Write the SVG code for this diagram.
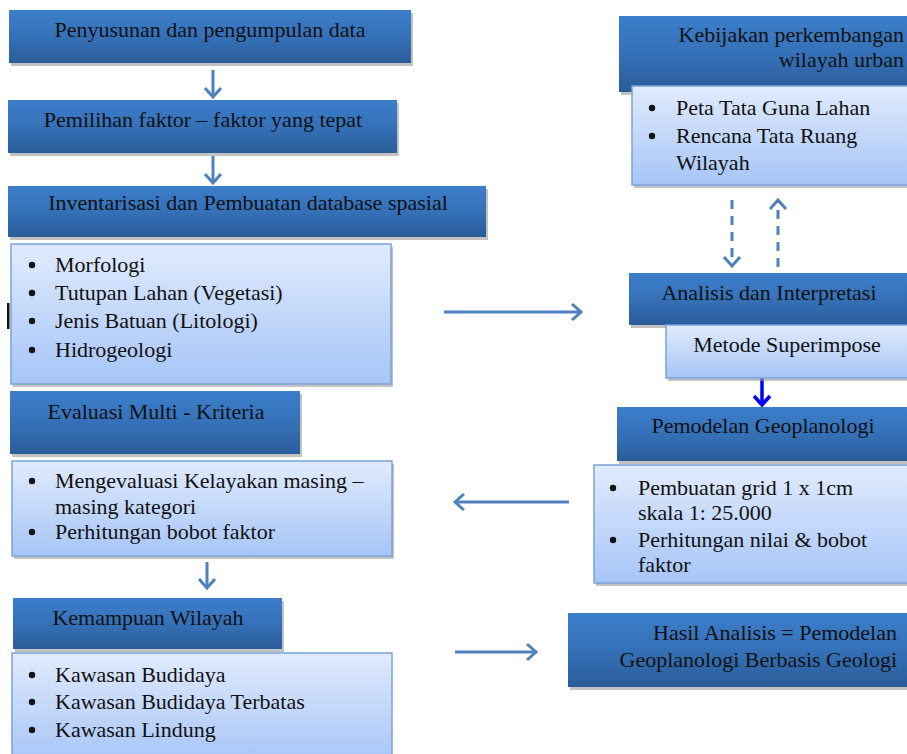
<svg xmlns="http://www.w3.org/2000/svg" width="907" height="754" viewBox="0 0 907 754">
<defs>
<linearGradient id="gDark" x1="0" y1="0" x2="0" y2="1">
<stop offset="0" stop-color="#3c7ecb"/>
<stop offset="0.5" stop-color="#3571b8"/>
<stop offset="1" stop-color="#2a5c99"/>
</linearGradient>
<linearGradient id="gLight" x1="0" y1="0" x2="0" y2="1">
<stop offset="0" stop-color="#e1ebfd"/>
<stop offset="1" stop-color="#a6c5f7"/>
</linearGradient>
<marker id="ah" viewBox="-12 -10 14 20" refX="0" refY="0" markerWidth="14" markerHeight="20" markerUnits="userSpaceOnUse" orient="auto">
<path d="M-9,-8 L0,0 L-9,8" fill="none" stroke="#4f81bd" stroke-width="3"/>
</marker>
<marker id="ahb" viewBox="-12 -10 14 20" refX="0" refY="0" markerWidth="14" markerHeight="20" markerUnits="userSpaceOnUse" orient="auto">
<path d="M-9,-8 L0,0 L-9,8" fill="none" stroke="#0000ff" stroke-width="3.5"/>
</marker>
</defs>
<style>
.dk{fill:url(#gDark);}
.sh{fill:#9a9a9a;opacity:0.6;}
.lt{fill:url(#gLight);stroke:#7aa3d8;stroke-width:1.5;}
.t{font-family:"Liberation Serif","Times New Roman",serif;font-size:22px;fill:#111;}
.c{text-anchor:middle;}
.e{text-anchor:end;}
.b{fill:#111;}
.ar{fill:none;stroke:#4f81bd;stroke-width:3;marker-end:url(#ah);}
.da{stroke-dasharray:9,7;}
</style>
<rect width="907" height="754" fill="#ffffff"/>

<g id="connectors">
<line class="ar" x1="213" y1="70" x2="213" y2="97"/>
<line class="ar" x1="213" y1="156" x2="213" y2="183"/>
<line class="ar da" x1="732" y1="200" x2="732" y2="266"/>
<line class="ar da" x1="778" y1="267" x2="778" y2="200"/>
<line class="ar" x1="444" y1="312" x2="581" y2="312"/>
<line x1="762" y1="378" x2="762" y2="405" fill="none" stroke="#0000ff" stroke-width="3.5" marker-end="url(#ahb)"/>
<line class="ar" x1="569" y1="502" x2="455" y2="502"/>
<line class="ar" x1="207" y1="562" x2="207" y2="588"/>
<line class="ar" x1="455" y1="652" x2="536" y2="652"/>
</g>

<rect x="7" y="303" width="2.5" height="26" fill="#111"/>

<g id="n1">
<rect class="sh" x="11" y="13" width="402" height="53"/>
<rect class="dk" x="9" y="10" width="402" height="53"/>
<text class="t c" x="210" y="37">Penyusunan dan pengumpulan data</text>
</g>
<g id="n2">
<rect class="sh" x="10" y="103" width="389" height="53"/>
<rect class="dk" x="8" y="100" width="389" height="53"/>
<text class="t c" x="203" y="127">Pemilihan faktor – faktor yang tepat</text>
</g>
<g id="n3">
<rect class="sh" x="10" y="189" width="478" height="51"/>
<rect class="dk" x="8" y="186" width="478" height="51"/>
<text class="t c" x="248" y="210">Inventarisasi dan Pembuatan database spasial</text>
</g>
<g id="n4">
<rect class="sh" x="13" y="247" width="380" height="140"/>
<rect class="lt" x="11" y="244" width="380" height="140"/>
<circle class="b" cx="32" cy="265" r="3.2"/>
<circle class="b" cx="32" cy="293" r="3.2"/>
<circle class="b" cx="32" cy="321" r="3.2"/>
<circle class="b" cx="32" cy="350" r="3.2"/>
<text class="t" x="55" y="272">Morfologi</text>
<text class="t" x="55" y="300">Tutupan Lahan (Vegetasi)</text>
<text class="t" x="55" y="328">Jenis Batuan (Litologi)</text>
<text class="t" x="55" y="357">Hidrogeologi</text>
</g>
<g id="n5">
<rect class="sh" x="12" y="394" width="290" height="63"/>
<rect class="dk" x="10" y="391" width="290" height="63"/>
<text class="t c" x="156" y="419">Evaluasi Multi - Kriteria</text>
</g>
<g id="n6">
<rect class="sh" x="14" y="464" width="380" height="95"/>
<rect class="lt" x="12" y="461" width="380" height="95"/>
<circle class="b" cx="32" cy="481" r="3.2"/>
<circle class="b" cx="32" cy="532" r="3.2"/>
<text class="t" x="55" y="488">Mengevaluasi Kelayakan masing –</text>
<text class="t" x="55" y="514">masing kategori</text>
<text class="t" x="55" y="539">Perhitungan bobot faktor</text>
</g>
<g id="n7">
<rect class="sh" x="15" y="601" width="269" height="51"/>
<rect class="dk" x="13" y="598" width="269" height="51"/>
<text class="t c" x="148" y="625">Kemampuan Wilayah</text>
</g>
<g id="n8">
<rect class="lt" x="12" y="653" width="380" height="110"/>
<circle class="b" cx="32" cy="675" r="3.2"/>
<circle class="b" cx="32" cy="702" r="3.2"/>
<circle class="b" cx="32" cy="730" r="3.2"/>
<text class="t" x="55" y="682">Kawasan Budidaya</text>
<text class="t" x="55" y="709">Kawasan Budidaya Terbatas</text>
<text class="t" x="55" y="737">Kawasan Lindung</text>
</g>
<g id="n9">
<rect class="sh" x="621" y="19" width="300" height="76"/>
<rect class="dk" x="619" y="16" width="300" height="76"/>
<text class="t e" x="904" y="42">Kebijakan perkembangan</text>
<text class="t e" x="904" y="67">wilayah urban</text>
</g>
<g id="n10">
<rect class="sh" x="634" y="89" width="290" height="99"/>
<rect class="lt" x="632" y="86" width="290" height="99"/>
<circle class="b" cx="652" cy="108" r="3.2"/>
<circle class="b" cx="652" cy="136" r="3.2"/>
<text class="t" x="676" y="115">Peta Tata Guna Lahan</text>
<text class="t" x="676" y="143">Rencana Tata Ruang</text>
<text class="t" x="676" y="170">Wilayah</text>
</g>
<g id="n11">
<rect class="sh" x="631" y="276" width="290" height="52"/>
<rect class="dk" x="629" y="273" width="290" height="52"/>
<text class="t c" x="769" y="300">Analisis dan Interpretasi</text>
</g>
<g id="n12">
<rect class="sh" x="668" y="328" width="260" height="53"/>
<rect class="lt" x="666" y="325" width="260" height="53"/>
<text class="t c" x="787" y="352">Metode Superimpose</text>
</g>
<g id="n13">
<rect class="sh" x="619" y="410" width="300" height="54"/>
<rect class="dk" x="617" y="407" width="300" height="54"/>
<text class="t c" x="763" y="433">Pemodelan Geoplanologi</text>
</g>
<g id="n14">
<rect class="sh" x="596" y="468" width="330" height="118"/>
<rect class="lt" x="594" y="465" width="330" height="118"/>
<circle class="b" cx="613" cy="488" r="3.2"/>
<circle class="b" cx="613" cy="540" r="3.2"/>
<text class="t" x="638" y="495">Pembuatan grid 1 x 1cm</text>
<text class="t" x="638" y="520">skala 1: 25.000</text>
<text class="t" x="638" y="547">Perhitungan nilai &amp; bobot</text>
<text class="t" x="638" y="572">faktor</text>
</g>
<g id="n15">
<rect class="sh" x="570" y="616" width="350" height="74"/>
<rect class="dk" x="568" y="613" width="350" height="74"/>
<text class="t e" x="897" y="640">Hasil Analisis = Pemodelan</text>
<text class="t e" x="897" y="667">Geoplanologi Berbasis Geologi</text>
</g>
</svg>
